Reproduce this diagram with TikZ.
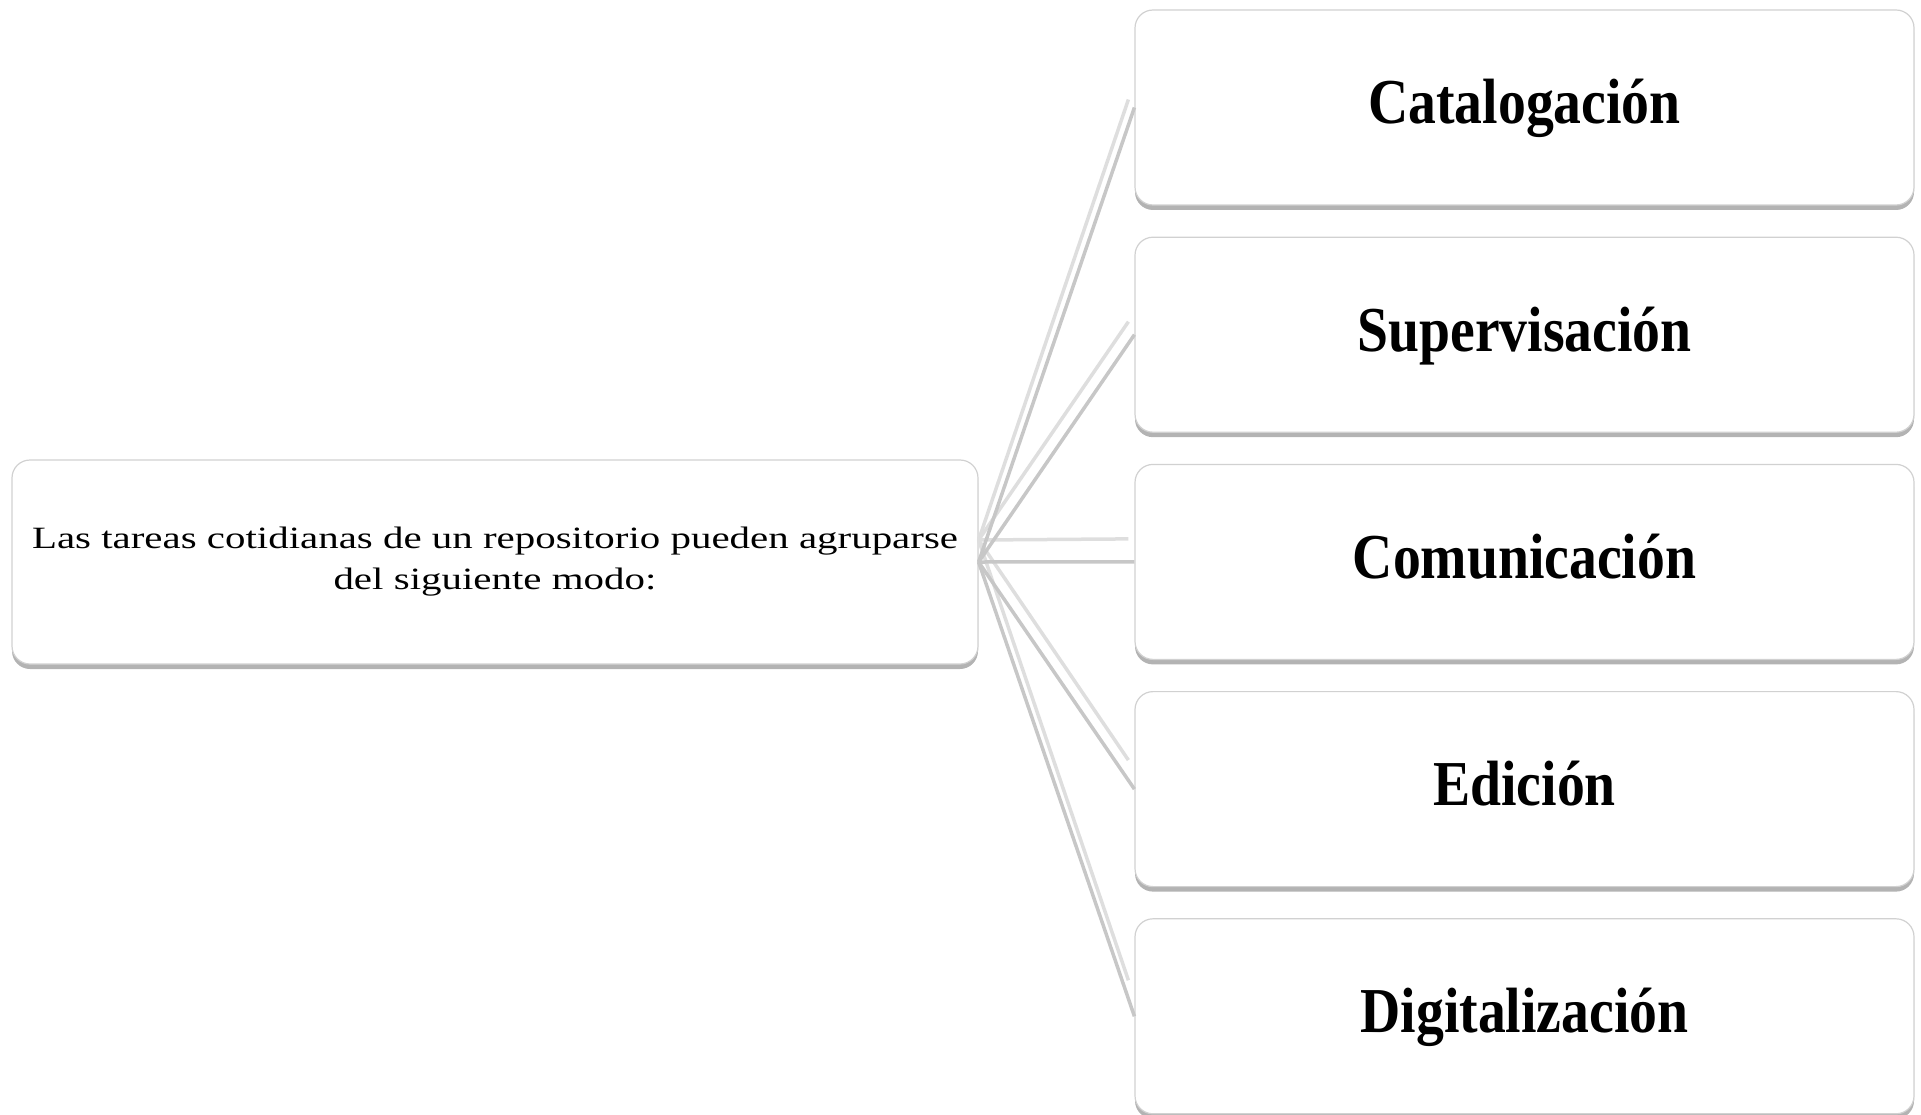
\documentclass[tikz,border=0pt]{standalone}
\usepackage{fontspec}
\setmainfont{Liberation Serif}
\newfontfamily\topicfont{Liberation Serif}[FakeStretch=1.32]
\newfontfamily\taskfont{Liberation Serif}[FakeStretch=0.87]
\usetikzlibrary{positioning,shadows}

\begin{document}
\begin{tikzpicture}[x=1pt,y=1pt,
    box/.style={draw=black!18,line width=1.2pt,fill=white,rounded corners=18pt,inner sep=0pt,
      drop shadow={shadow xshift=0pt,shadow yshift=-5pt,fill=black!50,opacity=0.6}},
    task/.style={box,minimum width=779pt,minimum height=195pt,text height=45pt,text depth=12pt,
      font=\taskfont\fontsize{64}{68}\selectfont\bfseries},
    link/.style={draw=black!22,line width=3.5pt},
    linkshade/.style={draw=black!13,line width=3.5pt}]
    \useasboundingbox (0,0) rectangle (1921,-1115);

    \node[box,minimum width=966pt,minimum height=204pt,text width=926pt,align=center,
      font=\topicfont\fontsize{31}{41}\selectfont] (topic) at (495,-562)
      {\makebox[926pt][s]{\spaceskip=.25em plus 1fil\relax Las tareas cotidianas de un repositorio pueden agruparse}\\del siguiente modo:};

    \node[task] (cat) at (1524.5,-107.5) {Catalogación};
    \node[task,below=31pt of cat] (sup) {Supervisación};
    \node[task,below=31pt of sup] (com) {Comunicación};
    \node[task,below=31pt of com] (edi) {Edición};
    \node[task,below=31pt of edi] (dig) {Digitalización};

    % connectors
    \coordinate[above=22pt of topic.east] (shade);
    \foreach \t/\d in {cat/8,sup/13,com/23,edi/29,dig/36}
      \draw[linkshade] (shade) -- ([shift={(-6pt,\d pt)}]\t.west);
    \foreach \t in {cat,sup,com,edi,dig}
      \draw[link] (topic.east) -- (\t.west);

\end{tikzpicture}
\end{document}
